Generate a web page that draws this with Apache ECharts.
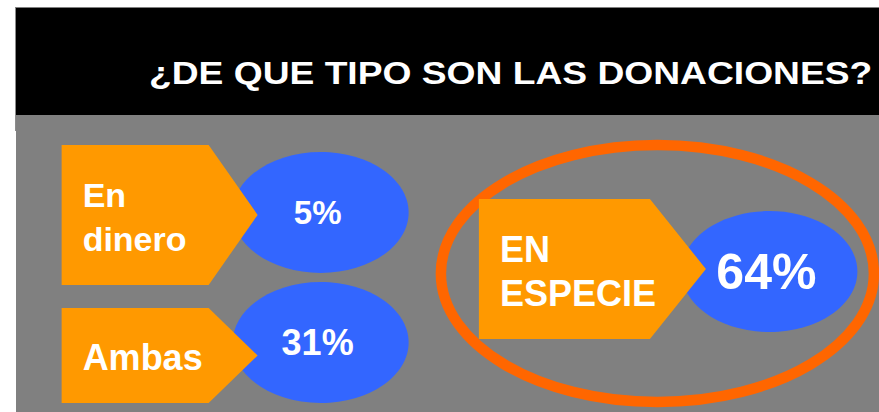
<!DOCTYPE html>
<html>
<head>
<meta charset="utf-8">
<script src="https://cdn.jsdelivr.net/npm/echarts@6/dist/echarts.min.js"></script>
<style>
  html, body { margin: 0; padding: 0; background: #ffffff; }
  #chart { width: 879px; height: 412px; }
</style>
</head>
<body>
<div id="chart"></div>
<script>
// data
const titleText = "¿DE QUE TIPO SON LAS DONACIONES?";
const categories = ["En\ndinero", "Ambas", "EN\nESPECIE"];
const shares = [5, 31, 64];

// layout of each card: anchor (ellipse centre) in axis units, shape offsets in px
const slots = [
  { at: [35.3, 32.8], left: -259, body: -112, tip: -63, top: -67.5, bottom: 72.5, labelSize: 34, valueSize: 33 },
  { at: [35.3, 76.6], left: -259, body: -112, tip: -63, top: -34.5, bottom: 60.5, labelSize: 36, valueSize: 36 },
  { at: [87.3, 52.7], left: -290.5, body: -119.5, tip: -63.5, top: -72.5, bottom: 67.5, labelSize: 36, valueSize: 50 },
];

const FONT = '"Liberation Sans", Arial, Helvetica, sans-serif';
const maxShare = Math.max(...shares);

const chart = echarts.init(document.getElementById("chart"), null, { renderer: "svg" });

const renderCard = (params, api) => {
  const s = slots[params.dataIndex];
  const share = api.value(1);
  const c = api.coord(s.at);
  const cx = c[0];
  const cy = c[1];
  const mid = cy + (s.top + s.bottom) / 2;
  const children = [];

  // the biggest share gets the orange ring
  if (share === maxShare) {
    children.push({
      type: "ellipse",
      shape: { cx: cx - 112, cy: cy + 2, rx: 216.5, ry: 128.5 },
      style: { fill: "none", stroke: "#FF6600", lineWidth: 10.5 },
    });
  }
  children.push({
    type: "ellipse",
    shape: { cx: cx, cy: cy, rx: 88, ry: 60.5 },
    style: { fill: "#3366FF" },
  });
  children.push({
    type: "polygon",
    shape: {
      points: [
        [cx + s.left, cy + s.top],
        [cx + s.body, cy + s.top],
        [cx + s.tip, mid],
        [cx + s.body, cy + s.bottom],
        [cx + s.left, cy + s.bottom],
      ],
    },
    style: { fill: "#FF9900" },
  });
  children.push({
    type: "text",
    style: {
      x: cx + s.left + 21,
      y: mid + 2,
      text: categories[params.dataIndex],
      fill: "#ffffff",
      font: "bold " + s.labelSize + "px " + FONT,
      lineHeight: 44,
      textAlign: "left",
      textVerticalAlign: "middle",
    },
  });
  children.push({
    type: "text",
    style: {
      x: cx - 3,
      y: cy,
      text: share + "%",
      fill: "#ffffff",
      font: "bold " + s.valueSize + "px " + FONT,
      textAlign: "center",
      textVerticalAlign: "middle",
    },
  });
  return { type: "group", children: children };
};

const option = {
  animation: false,
  backgroundColor: "#ffffff",
  grid: {
    left: 16,
    top: 115,
    right: 0,
    bottom: 0,
    show: true,
    backgroundColor: "#808080",
    borderWidth: 0,
  },
  xAxis: { type: "value", min: 0, max: 100, show: false },
  yAxis: { type: "value", min: 0, max: 100, inverse: true, show: false },
  graphic: [
    {
      type: "rect",
      shape: { x: 15, y: 7.5, width: 864, height: 107.5 },
      style: { fill: "#000000" },
    },
    {
      type: "line",
      shape: { x1: 15.5, y1: 7.5, x2: 15.5, y2: 131 },
      style: { stroke: "#8c8c8c", lineWidth: 1 },
    },
    {
      type: "text",
      x: 149,
      y: 73.5,
      scaleX: 1.2,
      style: {
        text: titleText,
        fill: "#ffffff",
        font: "bold 31px " + FONT,
        textAlign: "left",
        textVerticalAlign: "middle",
      },
    },
  ],
  series: [
    {
      type: "custom",
      renderItem: renderCard,
      data: shares.map((v, i) => ({ name: categories[i], value: [i, v] })),
      silent: true,
    },
  ],
};

chart.setOption(option);
</script>
</body>
</html>
